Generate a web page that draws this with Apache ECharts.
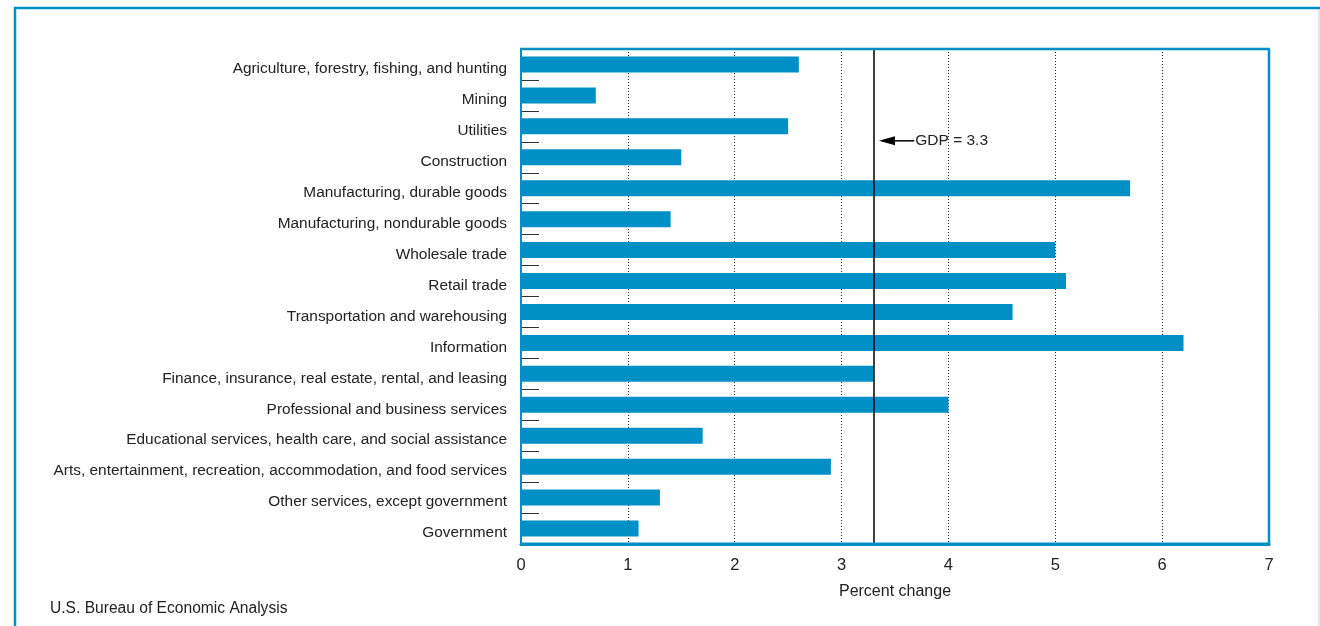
<!DOCTYPE html>
<html>
<head>
<meta charset="utf-8">
<script src="https://cdn.jsdelivr.net/npm/echarts@6/dist/echarts.min.js"></script>
<style>
  html, body { margin: 0; padding: 0; background: #fff; }
  #main { width: 1320px; height: 626px; }
</style>
</head>
<body>
<div id="main"></div>
<script>
// industries, top to bottom
var industries = [
  'Agriculture, forestry, fishing, and hunting',
  'Mining',
  'Utilities',
  'Construction',
  'Manufacturing, durable goods',
  'Manufacturing, nondurable goods',
  'Wholesale trade',
  'Retail trade',
  'Transportation and warehousing',
  'Information',
  'Finance, insurance, real estate, rental, and leasing',
  'Professional and business services',
  'Educational services, health care, and social assistance',
  'Arts, entertainment, recreation, accommodation, and food services',
  'Other services, except government',
  'Government'
];
// percent change
var pctChange = [2.6, 0.7, 2.5, 1.5, 5.7, 1.4, 5.0, 5.1, 4.6, 6.2, 3.3, 4.0, 1.7, 2.9, 1.3, 1.1];
var gdpChange = 3.3;

var blue = '#0090c6';
var font = '"Liberation Sans", Arial, sans-serif';

var gridL = 521, gridR = 51, gridT = 49, gridB = 82;

var chart = echarts.init(document.getElementById('main'));
chart.setOption({
  animation: false,
  title: {
    text: 'U.S. Bureau of Economic Analysis',
    left: 45, top: 596,
    textStyle: { fontFamily: font, fontSize: 15.6, fontWeight: 'normal', color: '#222' }
  },
  grid: { left: gridL, right: gridR, top: gridT, bottom: gridB },
  xAxis: {
    type: 'value', min: 0, max: 7, interval: 1,
    name: 'Percent change', nameLocation: 'middle', nameGap: 40,
    nameTextStyle: { fontFamily: font, fontSize: 16, color: '#222' },
    axisLine: { show: true, lineStyle: { color: blue, width: 3 } },
    axisTick: { show: false },
    axisLabel: { fontFamily: font, fontSize: 16.5, color: '#222', margin: 13 },
    splitLine: { show: true, lineStyle: { color: '#222', type: [1, 2], width: 1 } }
  },
  yAxis: {
    type: 'category', data: industries, inverse: true,
    axisLine: { show: true, lineStyle: { color: blue, width: 2 } },
    axisTick: { show: true, inside: true, length: 18, lineStyle: { color: '#333', width: 1 } },
    axisLabel: {
      fontFamily: font, fontSize: 15.4, color: '#222', margin: 14,
      verticalAlign: 'top', lineHeight: 9
    },
    splitLine: { show: false }
  },
  series: [{
    type: 'bar',
    data: pctChange,
    barWidth: 16,
    itemStyle: { color: blue },
    markLine: {
      silent: true,
      symbol: ['none', 'none'],
      label: { show: false },
      lineStyle: { color: '#000', type: 'solid', width: 1.5 },
      data: [{ xAxis: gdpChange }]
    }
  }]
});

// GDP annotation: arrow pointing to the GDP line, placed via axis scales
var pUtil = chart.convertToPixel({ xAxisIndex: 0, yAxisIndex: 0 }, [gdpChange, industries[2]]);
var pCons = chart.convertToPixel({ xAxisIndex: 0, yAxisIndex: 0 }, [gdpChange, industries[3]]);
var ay = (pUtil[1] + pCons[1]) / 2 - 1;
var headX = chart.convertToPixel({ xAxisIndex: 0 }, gdpChange + 0.05);
var tailX = chart.convertToPixel({ xAxisIndex: 0 }, gdpChange + 0.38);
var x0 = chart.convertToPixel({ xAxisIndex: 0 }, 0);
var x7 = chart.convertToPixel({ xAxisIndex: 0 }, 7);

chart.setOption({
  graphic: [
    // outer frame
    { type: 'line', silent: true, shape: { x1: 14, y1: 8, x2: 1320, y2: 8 }, style: { stroke: blue, lineWidth: 2.5 } },
    { type: 'line', silent: true, shape: { x1: 15, y1: 7, x2: 15, y2: 626 }, style: { stroke: blue, lineWidth: 2.5 } },
    { type: 'line', silent: true, shape: { x1: 1319, y1: 9, x2: 1319, y2: 626 }, style: { stroke: '#a8d8ee', lineWidth: 1 } },
    // plot frame drawn over the ticks
    { type: 'line', silent: true, z: 10, shape: { x1: x0 - 1, y1: gridT, x2: x7 + 1, y2: gridT }, style: { stroke: blue, lineWidth: 2.5 } },
    { type: 'line', silent: true, z: 10, shape: { x1: x7, y1: gridT, x2: x7, y2: 626 - gridB }, style: { stroke: blue, lineWidth: 2.5 } },
    { type: 'line', silent: true, z: 10, shape: { x1: x0, y1: gridT, x2: x0, y2: 626 - gridB }, style: { stroke: blue, lineWidth: 2 } },
    { type: 'line', silent: true, z: 10, shape: { x1: x0 - 1, y1: 626 - gridB, x2: x7 + 1, y2: 626 - gridB }, style: { stroke: blue, lineWidth: 3 } },
    // arrow
    {
      type: 'polygon', silent: true,
      shape: { points: [[headX, ay], [headX + 16, ay - 4.5], [headX + 16, ay + 4.5]] },
      style: { fill: '#000' }
    },
    {
      type: 'line', silent: true,
      shape: { x1: headX + 12, y1: ay, x2: tailX, y2: ay },
      style: { stroke: '#000', lineWidth: 1.5 }
    },
    {
      type: 'text', silent: true,
      x: tailX + 1, y: ay,
      style: { text: 'GDP = 3.3', fontFamily: font, fontSize: 15.5, fill: '#222', verticalAlign: 'middle' }
    }
  ]
});
</script>
</body>
</html>
